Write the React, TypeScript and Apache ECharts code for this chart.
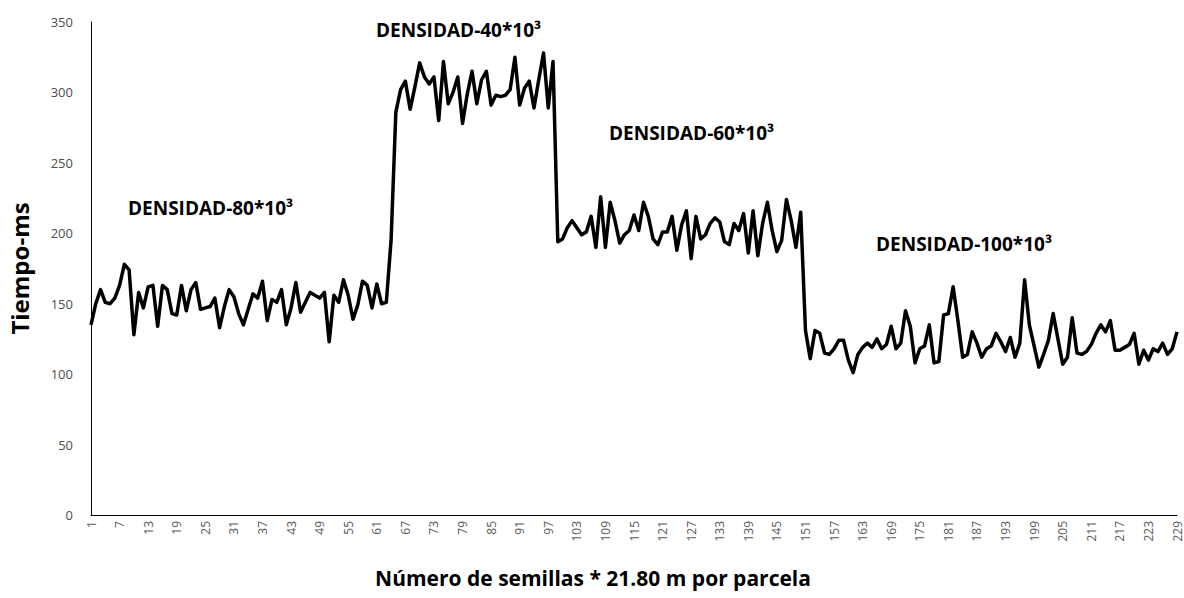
import React, { useEffect, useRef } from "react";
import * as echarts from "echarts";

const tiempoMs: number[] = [
  135, 150, 160, 151, 150, 154, 163, 178, 174, 128,
  158, 147, 162, 163, 134, 163, 160, 143, 142, 163,
  145, 160, 165, 146, 147, 148, 154, 133, 148, 160,
  155, 143, 135, 146, 157, 154, 166, 138, 153, 151,
  160, 135, 147, 165, 144, 151, 158, 156, 154, 158,
  123, 156, 151, 167, 156, 139, 149, 166, 163, 147,
  164, 150, 151, 195, 286, 302, 308, 288, 304, 321,
  311, 306, 311, 280, 322, 292, 300, 311, 278, 299,
  315, 292, 309, 315, 291, 298, 297, 298, 302, 325,
  291, 303, 308, 289, 309, 328, 289, 322, 194, 196,
  204, 209, 204, 199, 201, 212, 190, 226, 190, 222,
  209, 193, 199, 202, 213, 202, 222, 212, 196, 192,
  201, 201, 212, 188, 206, 216, 182, 212, 196, 199,
  207, 211, 208, 194, 192, 207, 202, 214, 186, 216,
  184, 207, 222, 202, 187, 195, 224, 209, 190, 215,
  131, 111, 131, 129, 115, 114, 118, 124, 124, 110,
  101, 114, 119, 122, 119, 125, 118, 121, 134, 118,
  122, 145, 134, 108, 118, 120, 135, 108, 109, 142,
  143, 162, 138, 112, 114, 130, 122, 112, 118, 120,
  129, 123, 116, 126, 112, 122, 167, 135, 120, 105,
  114, 124, 143, 125, 107, 112, 140, 115, 114, 116,
  121, 129, 135, 130, 138, 117, 117, 119, 121, 129,
  107, 117, 110, 118, 116, 122, 114, 118, 130,
];

const categories: string[] = tiempoMs.map((_, i) => String(i + 1));

const yTicks = { min: 0, max: 350, interval: 50 };

const annotations: { text: string; x: number; y: number }[] = [
  { text: "DENSIDAD-80*10³", x: 128, y: 208 },
  { text: "DENSIDAD-40*10³", x: 376, y: 30 },
  { text: "DENSIDAD-60*10³", x: 609, y: 133 },
  { text: "DENSIDAD-100*10³", x: 876, y: 244 },
];

const xTitle = "Número de semillas * 21.80 m por parcela";
const yTitle = "Tiempo-ms";

export default function App() {
  const ref = useRef<HTMLDivElement>(null);
  useEffect(() => {
    if (!ref.current) return;
    const chart = echarts.init(ref.current, null, { renderer: "svg" });
    const font = "'Open Sans', sans-serif";
    chart.setOption({
      animation: false,
      backgroundColor: "#fff",
      textStyle: { fontFamily: font },
      grid: { left: 91, right: 7, top: 22, bottom: 83, containLabel: false, outerBoundsMode: "none" },
      xAxis: {
        type: "category",
        data: categories,
        boundaryGap: false,
        axisLine: { show: true, lineStyle: { color: "#000", width: 1 } },
        axisTick: { show: false },
        axisLabel: {
          interval: 5,
          rotate: 90,
          fontSize: 12,
          color: "#595959",
          margin: 6,
          fontFamily: font,
        },
        splitLine: { show: false },
      },
      yAxis: {
        type: "value",
        min: yTicks.min,
        max: yTicks.max,
        interval: yTicks.interval,
        axisLine: { show: true, lineStyle: { color: "#000", width: 1 } },
        axisTick: { show: false },
        splitLine: { show: false },
        axisLabel: { fontSize: 13, color: "#4d4d4d", margin: 18, fontFamily: font },
        name: yTitle,
        nameLocation: "middle",
        nameGap: 60,
        nameTextStyle: { fontSize: 24, fontWeight: "bold", color: "#000", fontFamily: font },
      },
      series: [
        {
          type: "line",
          data: tiempoMs,
          showSymbol: false,
          symbol: "none",
          lineStyle: { color: "#000", width: 3.5, join: "round" },
          itemStyle: { color: "#000" },
        },
      ],
      graphic: [
        ...annotations.map((a) => ({
          type: "text",
          x: a.x,
          y: a.y,
          style: {
            text: a.text,
            font: `bold 19px ${font}`,
            fill: "#000",
            align: "left",
            verticalAlign: "middle",
          },
        })),
        {
          type: "text",
          x: 593,
          y: 578,
          style: {
            text: xTitle,
            font: `bold 21px ${font}`,
            fill: "#000",
            align: "center",
            verticalAlign: "middle",
          },
        },
      ],
    });
    return () => chart.dispose();
  }, []);
  return <div ref={ref} style={{ width: 1184, height: 598, position: "absolute", left: 0, top: 0 }} />;
}
